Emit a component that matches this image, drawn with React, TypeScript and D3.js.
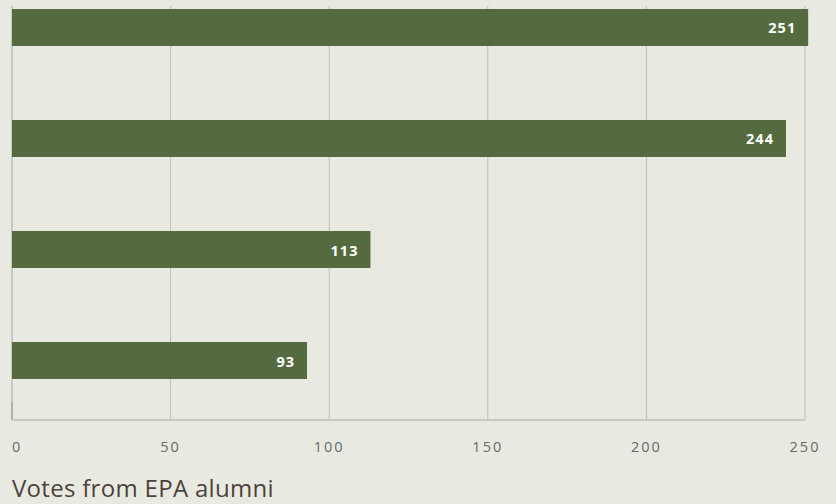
import React from "react";
import * as d3 from "d3";

const categories = ["A", "B", "C", "D"];
const values = [251, 244, 113, 93];
const ticks = [0, 50, 100, 150, 200, 250];
const title = "Votes from EPA alumni";

const W = 836;
const H = 504;

export default function App() {
  const x = d3.scaleLinear().domain([0, 250]).range([12, 805]);
  const y = d3
    .scaleBand<string>()
    .domain(categories)
    .range([9, 379])
    .paddingInner(0.6667)
    .paddingOuter(0);
  const baseY = 420;
  return (
    <svg
      width={W}
      height={H}
      style={{ position: "absolute", left: 0, top: 0, display: "block", background: "#e8eae1" }}
    >
      <rect x={0} y={0} width={W} height={H} fill="#e8eae1" />
      {ticks.map((t) => (
        <line
          key={"g" + t}
          x1={x(t)}
          x2={x(t)}
          y1={6}
          y2={baseY}
          stroke="#bdbfb8"
          strokeWidth={t === 0 ? 1.5 : 1}
        />
      ))}
      <line x1={x(0)} x2={x(0)} y1={402} y2={baseY} stroke="#a9aba4" strokeWidth={1.5} />
      <line x1={x(0)} x2={x(250)} y1={baseY} y2={baseY} stroke="#bdbfb8" strokeWidth={1.5} />
      {categories.map((c, i) => (
        <g key={c}>
          <rect
            x={x(0)}
            y={y(c)}
            width={x(values[i]) - x(0)}
            height={y.bandwidth()}
            fill="#556b3f"
          />
          <text
            x={x(values[i]) - 12}
            y={(y(c) as number) + y.bandwidth() / 2 + 6}
            textAnchor="end"
            fill="#ffffff"
            fontFamily="'Open Sans', sans-serif"
            fontWeight={700}
            fontSize={14.5}
            letterSpacing={1}
          >
            {values[i]}
          </text>
        </g>
      ))}
      {ticks.map((t) => (
        <text
          key={"t" + t}
          x={x(t)}
          y={452}
          textAnchor={t === 0 ? "start" : "middle"}
          fill="#636a6a"
          fontFamily="'Open Sans', sans-serif"
          fontSize={14.5}
          letterSpacing={2}
        >
          {t}
        </text>
      ))}
      <text
        x={12}
        y={497}
        fill="#4d423d"
        fontFamily="'Open Sans', sans-serif"
        fontSize={24}
        letterSpacing={0.3}
      >
        {title}
      </text>
    </svg>
  );
}
